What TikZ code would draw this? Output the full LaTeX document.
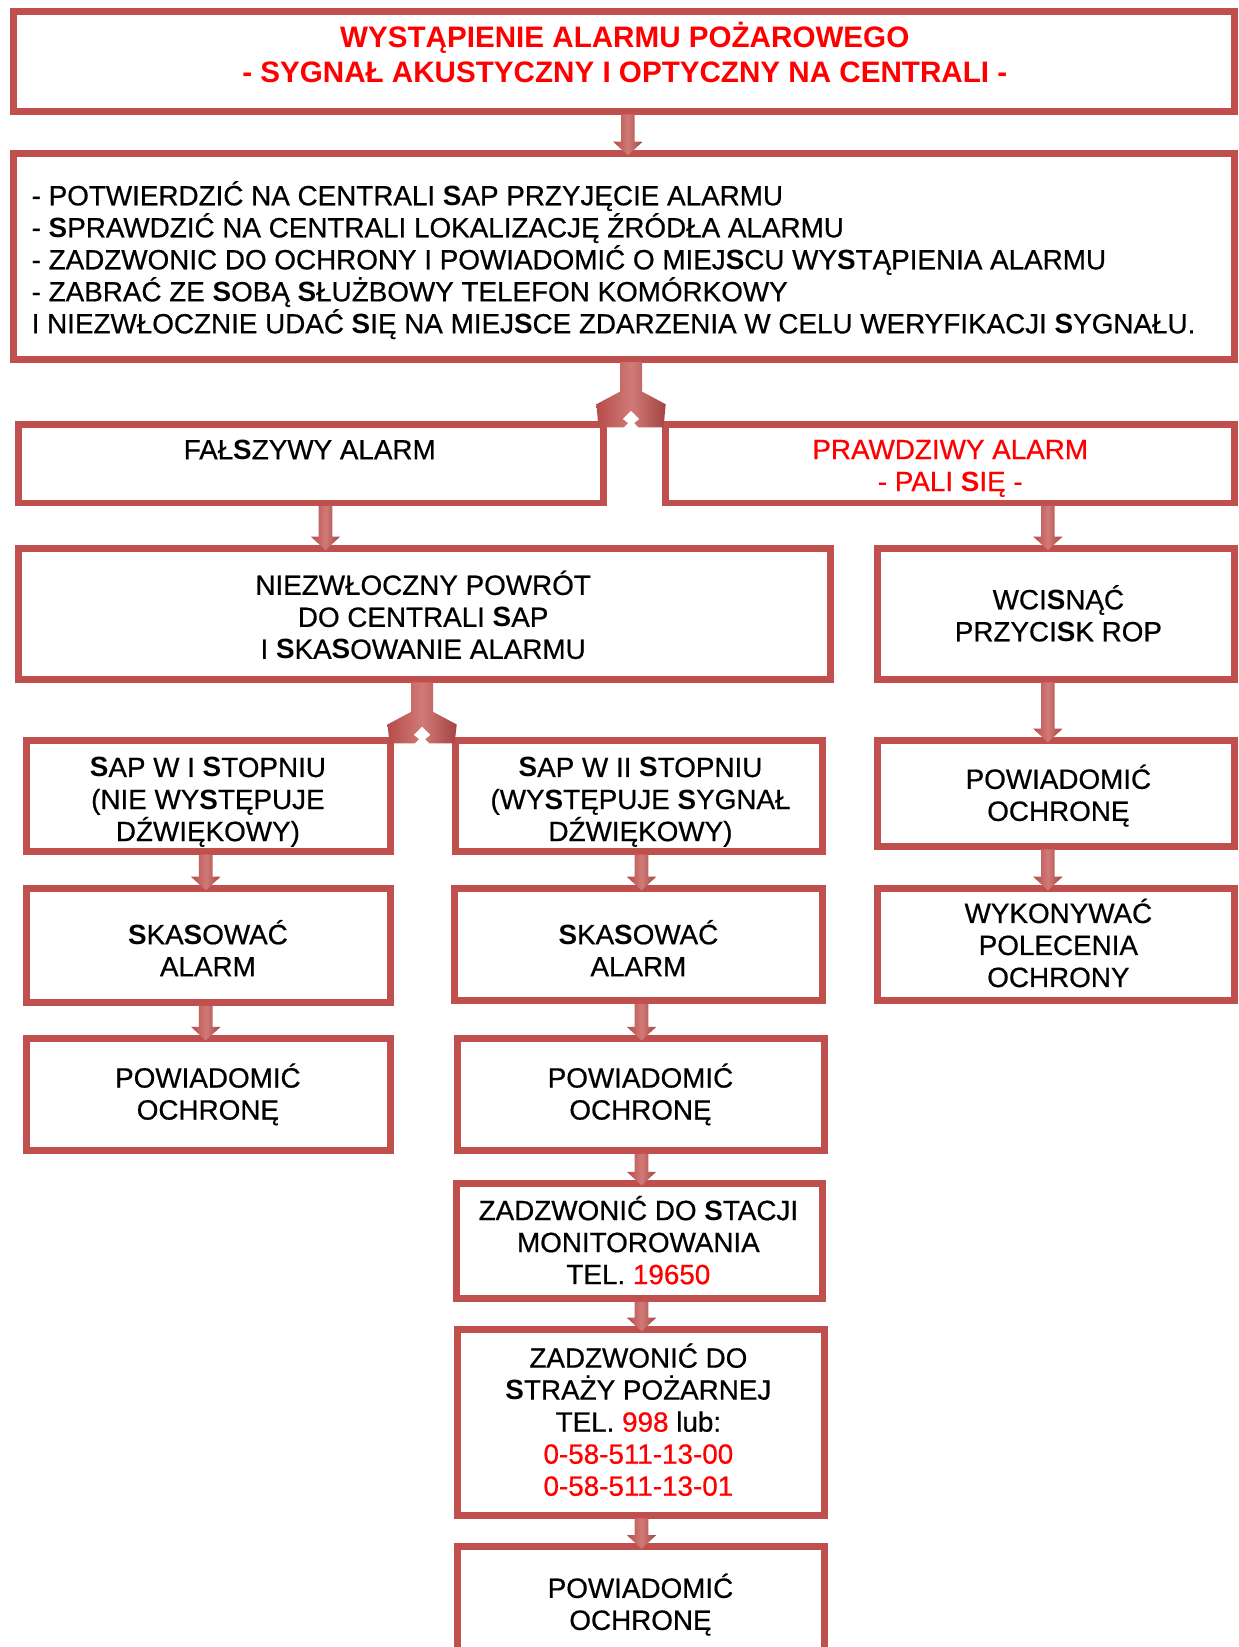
\documentclass[tikz,border=0pt]{standalone}
\usepackage{fontspec}
\setmainfont{Liberation Sans}
\newfontfamily\bodyfont{Liberation Sans}[FakeBold=0.6]
\newfontfamily\boldfont{Liberation Sans}
\usetikzlibrary{fit,calc}
\definecolor{boxred}{HTML}{C0504D}
\definecolor{arrowlight}{HTML}{D07A77}
\definecolor{txtred}{HTML}{FF0000}
\newcommand\Sb{{\boldfont\bfseries S}}
\newcommand\tp{\rule{0pt}{28pt}}
\newcommand\bt{\rule[-9pt]{0pt}{9pt}}
\newcommand\tpb{\rule{0pt}{30pt}}
\newcommand\btb{\rule[-9.8pt]{0pt}{9.8pt}}
\newcommand\red[1]{\textcolor{txtred}{#1}}
\tikzset{
  box/.style={draw=boxred, line width=6.5pt, rectangle, inner sep=0pt, outer sep=0pt},
  txt/.style={inner sep=0pt, align=center, font=\bodyfont\fontsize{26.5}{30.5}\selectfont},
  title/.style={inner sep=0pt, align=center, text=txtred, font=\boldfont\fontsize{28.2}{33}\selectfont\bfseries},
  arrowfill/.style={left color=boxred!95!black, right color=boxred!85!black, middle color=arrowlight},
}
% block arrow: #1 = x, #2 = from node, #3 = to node
\newcommand\blockarrow[3]{%
  \path[arrowfill] let \p1=(#2.south), \p2=(#3.north) in
    ({#1pt-6.5pt},{\y1-3pt}) -- ({#1pt+6.5pt},{\y1-3pt}) -- ({#1pt+6.5pt},{\y2+11pt})
    -- ({#1pt+14pt},{\y2+11pt}) -- ({#1pt},{\y2-2pt}) -- ({#1pt-14pt},{\y2+11pt})
    -- ({#1pt-6.5pt},{\y2+11pt}) -- cycle;}
% split arrow: #1 = x, #2 = from node, #3 = one target node
\newcommand\splitarrow[3]{%
  \path[arrowfill] let \p1=(#2.south), \p2=(#3.north) in
    ({#1pt-10.5pt},{\y1-3pt}) -- ({#1pt-10.5pt},{\y1-31pt}) -- ({#1pt-33pt},{\y1-43pt})
    -- ({#1pt-31pt},{\y2-3pt}) -- ({#1pt-7pt},{\y2-3pt}) -- ({#1pt-3pt},{\y2+1pt})
    -- ({#1pt-8pt},{\y2+5pt}) -- ({#1pt},{\y2+13pt}) -- ({#1pt+8pt},{\y2+5pt})
    -- ({#1pt+3pt},{\y2+1pt}) -- ({#1pt+7pt},{\y2-3pt}) -- ({#1pt+31pt},{\y2-3pt})
    -- ({#1pt+33pt},{\y1-43pt}) -- ({#1pt+10.5pt},{\y1-31pt}) -- ({#1pt+10.5pt},{\y1-3pt}) -- cycle;}
\begin{document}
\begin{tikzpicture}[x=1pt,y=-1pt]
\useasboundingbox (0,0) rectangle (1180,1568.6);
\fill[white] (0,0) rectangle (1180,1568.6);
\clip (0,0) rectangle (1180,1568.6);
% boxes
\node[box, fit={(13,11) (1176,106)}] (alarm) {};
\node[box, fit={(13,146) (1176,342)}] (steps) {};
\node[box, fit={(18,404) (575,479)}] (false) {};
\node[box, fit={(634,404) (1176,479)}] (true) {};
\node[box, fit={(18,522) (791,647)}] (back) {};
\node[box, fit={(836,522) (1176,647)}] (rop) {};
\node[box, fit={(25,705) (372,811)}] (sap1) {};
\node[box, fit={(434,705) (783,811)}] (sap2) {};
\node[box, fit={(836,705) (1176,806)}] (notifyR) {};
\node[box, fit={(836,846) (1176,953)}] (orders) {};
\node[box, fit={(25,846) (372,955)}] (reset1) {};
\node[box, fit={(433,846) (783,953)}] (reset2) {};
\node[box, fit={(25,989) (372,1096)}] (notify1) {};
\node[box, fit={(436,989) (785,1096)}] (notify2) {};
\node[box, fit={(435,1127) (783,1237)}] (monitor) {};
\node[box, fit={(436,1266) (785,1443)}] (fire) {};
\node[box, fit={(436,1473) (785,1600)}] (notify3) {};
% texts
\node[title] (t-alarm) at (595,51.5) {\tpb WYSTĄPIENIE ALARMU POŻAROWEGO\\- SYGNAŁ AKUSTYCZNY I OPTYCZNY NA CENTRALI -\btb};
\node[txt, align=left, anchor=west] (t-steps) at (30,247) {\tp- POTWIERDZIĆ NA CENTRALI \Sb AP PRZYJĘCIE ALARMU\\
- \Sb PRAWDZIĆ NA CENTRALI LOKALIZACJĘ ŹRÓDŁA ALARMU\\
- ZADZWONIC DO OCHRONY I POWIADOMIĆ O MIEJ\Sb CU WY\Sb TĄPIENIA ALARMU\\
- ZABRAĆ ZE \Sb OBĄ \Sb ŁUŻBOWY TELEFON KOMÓRKOWY\\
I NIEZWŁOCZNIE UDAĆ \Sb IĘ NA MIEJ\Sb CE ZDARZENIA W CELU WERYFIKACJI \Sb YGNAŁU.\bt};
\node[txt] (t-false) at (295,428) {\tp FAŁ\Sb ZYWY ALARM\bt};
\node[txt, text=txtred] (t-true) at (905,443) {\tp PRAWDZIWY ALARM\\- PALI \Sb IĘ -\bt};
\node[txt] (t-back) at (403,587.5) {\tp NIEZWŁOCZNY POWRÓT\\DO CENTRALI \Sb AP\\I \Sb KA\Sb OWANIE ALARMU\bt};
\node[txt] (t-rop) at (1008,586) {\tp WCI\Sb NĄĆ\\PRZYCI\Sb K ROP\bt};
\node[txt] (t-sap1) at (198,761) {\tp\Sb AP W I \Sb TOPNIU\\(NIE WY\Sb TĘPUJE\\DŹWIĘKOWY)\bt};
\node[txt] (t-sap2) at (610,761) {\tp\Sb AP W II \Sb TOPNIU\\(WY\Sb TĘPUJE \Sb YGNAŁ\\DŹWIĘKOWY)\bt};
\node[txt] (t-notifyR) at (1008,757) {\tp POWIADOMIĆ\\OCHRONĘ\bt};
\node[txt] (t-orders) at (1008,900) {\tp WYKONYWAĆ\\POLECENIA\\OCHRONY\bt};
\node[txt] (t-reset1) at (198,905) {\tp\Sb KA\Sb OWAĆ\\ALARM\bt};
\node[txt] (t-reset2) at (608,905) {\tp\Sb KA\Sb OWAĆ\\ALARM\bt};
\node[txt] (t-notify1) at (198,1041.5) {\tp POWIADOMIĆ\\OCHRONĘ\bt};
\node[txt] (t-notify2) at (610,1041.5) {\tp POWIADOMIĆ\\OCHRONĘ\bt};
\node[txt] (t-monitor) at (608,1183) {\tp ZADZWONIĆ DO \Sb TACJI\\MONITOROWANIA\\TEL. \red{19650}\bt};
\node[txt] (t-fire) at (608,1354) {\tp ZADZWONIĆ DO\\\Sb TRAŻY POŻARNEJ\\TEL. \red{998} lub:\\\red{0-58-511-13-00}\\\red{0-58-511-13-01}\bt};
\node[txt] (t-notify3) at (610,1527.5) {\tp POWIADOMIĆ\\OCHRONĘ\bt};
% connectors
\blockarrow{598}{alarm}{steps}
\splitarrow{601}{steps}{false}
\blockarrow{310}{false}{back}
\blockarrow{998}{true}{rop}
\splitarrow{402}{back}{sap1}
\blockarrow{998}{rop}{notifyR}
\blockarrow{998}{notifyR}{orders}
\blockarrow{196}{sap1}{reset1}
\blockarrow{611}{sap2}{reset2}
\blockarrow{196}{reset1}{notify1}
\blockarrow{611}{reset2}{notify2}
\blockarrow{611}{notify2}{monitor}
\blockarrow{611}{monitor}{fire}
\blockarrow{611}{fire}{notify3}
\end{tikzpicture}
\end{document}
